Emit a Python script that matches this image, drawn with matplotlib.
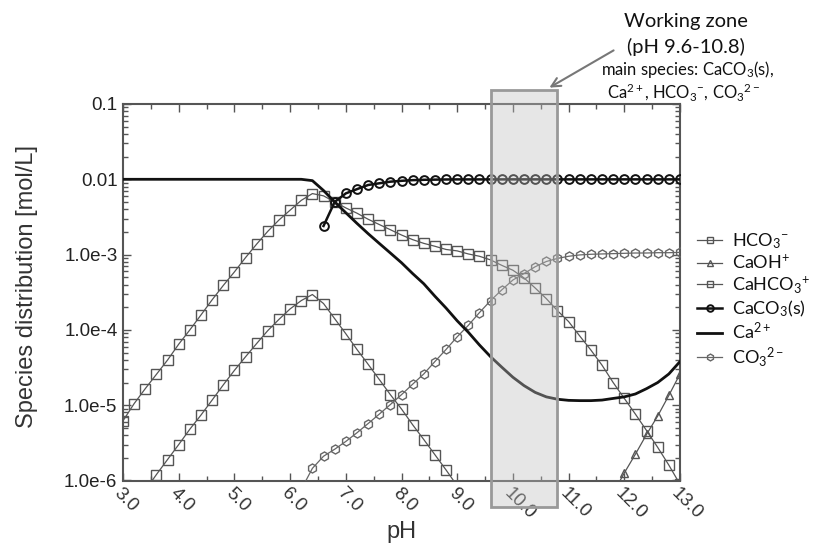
import matplotlib
matplotlib.use("Agg")
import matplotlib.pyplot as plt
from matplotlib.patches import Rectangle
from matplotlib.ticker import FixedLocator, FixedFormatter, LogLocator, NullFormatter

plt.rcParams["font.family"] = ["Liberation Sans", "DejaVu Sans"]
plt.rcParams["mathtext.fontset"] = "custom"
plt.rcParams["mathtext.rm"] = "Lato"
plt.rcParams["mathtext.it"] = "Lato:italic"
plt.rcParams["mathtext.bf"] = "Lato:bold"

# pH grid (markers every 0.2)
PH = [3.0, 3.2, 3.4, 3.6, 3.8, 4.0, 4.2, 4.4, 4.6, 4.8,
      5.0, 5.2, 5.4, 5.6, 5.8, 6.0, 6.2, 6.4, 6.6, 6.8,
      7.0, 7.2, 7.4, 7.6, 7.8, 8.0, 8.2, 8.4, 8.6, 8.8,
      9.0, 9.2, 9.4, 9.6, 9.8, 10.0, 10.2, 10.4, 10.6, 10.8,
      11.0, 11.2, 11.4, 11.6, 11.8, 12.0, 12.2, 12.4, 12.6, 12.8,
      13.0]

# species concentrations [mol/L]
hco3 = [6.2e-6, 1.05e-5, 1.66e-5, 2.57e-5, 3.98e-5, 6.46e-5, 1.0e-4, 1.58e-4, 2.51e-4, 3.89e-4,
        5.89e-4, 9.12e-4, 1.38e-3, 2.04e-3, 2.88e-3, 3.89e-3, 5.25e-3, 6.46e-3, 6.03e-3, 5.01e-3,
        4.17e-3, 3.55e-3, 2.95e-3, 2.51e-3, 2.14e-3, 1.82e-3, 1.58e-3, 1.41e-3, 1.29e-3, 1.17e-3,
        1.12e-3, 1.02e-3, 9.5e-4, 8.5e-4, 7.2e-4, 6.2e-4, 4.9e-4, 3.6e-4, 2.6e-4, 1.8e-4,
        1.29e-4, 8.3e-5, 5.4e-5, 3.4e-5, 2.0e-5, 1.23e-5, 7.6e-6, 4.6e-6, 2.75e-6, 1.6e-6,
        8.9e-7]
cahco3 = [2.8e-7, 4.6e-7, 7.4e-7, 1.2e-6, 1.9e-6, 3.0e-6, 4.8e-6, 7.4e-6, 1.17e-5, 1.86e-5,
          2.9e-5, 4.4e-5, 6.6e-5, 9.8e-5, 1.38e-4, 1.9e-4, 2.45e-4, 2.95e-4, 2.24e-4, 1.41e-4,
          8.9e-5, 5.5e-5, 3.5e-5, 2.2e-5, 1.38e-5, 8.9e-6, 5.5e-6, 3.5e-6, 2.2e-6, 1.38e-6,
          8.5e-7]                                   # pH 3.0 - 9.0
caco3_s = [2.4e-3, 5.0e-3, 6.5e-3, 7.4e-3, 8.4e-3, 8.85e-3, 9.3e-3, 9.55e-3, 9.75e-3, 9.85e-3,
           9.9e-3, 9.95e-3, 9.97e-3, 9.97e-3, 9.97e-3, 9.97e-3, 9.97e-3, 9.98e-3, 9.98e-3, 9.98e-3,
           9.98e-3, 9.98e-3, 9.98e-3, 9.98e-3, 9.98e-3, 9.98e-3, 9.98e-3, 9.98e-3, 9.98e-3, 9.98e-3,
           9.98e-3, 9.98e-3, 9.98e-3]               # pH 6.6 - 13.0
ca2 = [1.0e-2, 1.0e-2, 1.0e-2, 1.0e-2, 1.0e-2, 1.0e-2, 1.0e-2, 1.0e-2, 1.0e-2, 1.0e-2,
       1.0e-2, 1.0e-2, 1.0e-2, 1.0e-2, 1.0e-2, 1.0e-2, 1.0e-2, 9.6e-3, 7.1e-3, 5.0e-3,
       3.6e-3, 2.6e-3, 1.9e-3, 1.41e-3, 1.05e-3, 7.8e-4, 5.6e-4, 4.1e-4, 2.8e-4, 1.95e-4,
       1.32e-4, 9.3e-5, 6.3e-5, 4.4e-5, 3.2e-5, 2.35e-5, 1.82e-5, 1.48e-5, 1.29e-5, 1.2e-5,
       1.16e-5, 1.15e-5, 1.15e-5, 1.17e-5, 1.23e-5, 1.29e-5, 1.41e-5, 1.66e-5, 2.0e-5, 2.6e-5,
       3.8e-5]
co3 = [7.6e-7, 1.45e-6, 2.1e-6, 2.6e-6, 3.3e-6, 4.3e-6, 5.7e-6, 7.6e-6, 1.02e-5, 1.38e-5,
       1.9e-5, 2.6e-5, 3.8e-5, 5.5e-5, 8.1e-5, 1.15e-4, 1.7e-4, 2.45e-4, 3.4e-4, 4.6e-4,
       5.6e-4, 6.9e-4, 8.1e-4, 8.9e-4, 9.5e-4, 9.9e-4, 1.01e-3, 1.02e-3, 1.03e-3, 1.04e-3,
       1.05e-3, 1.05e-3, 1.06e-3, 1.06e-3, 1.07e-3]  # pH 6.2 - 13.0
caoh = [6.8e-7, 1.26e-6, 2.24e-6, 4.1e-6, 7.2e-6, 1.35e-5, 2.6e-5]  # pH 11.8 - 13.0

zone = (9.6, 10.8)
xticks = [3, 4, 5, 6, 7, 8, 9, 10, 11, 12, 13]
xlabels = ["3.0", "4.0", "5.0", "6.0", "7.0", "8.0", "9.0", "10.0", "11.0", "12.0", "13.0"]
yticks = [1e-6, 1e-5, 1e-4, 1e-3, 1e-2, 1e-1]
ylabels = ["1.0e-6", "1.0e-5", "1.0e-4", "1.0e-3", "0.01", "0.1"]

GRAY = "#555555"
fig = plt.figure(figsize=(8.14, 5.48), dpi=100)
ax = fig.add_axes([123 / 814, 1 - 480.5 / 548, (680 - 123) / 814, (480.5 - 104) / 548])

sq = dict(marker="s", ms=6.5, mfc="none", mec=GRAY, mew=1.0, color=GRAY, lw=0.9)
ax.plot(PH, hco3, label=r"HCO$_3$$^{-}$", zorder=3, **sq)
ax.plot(PH[44:], caoh, marker="^", ms=6, mfc="none", mec=GRAY, mew=1.0, color=GRAY, lw=0.9,
        label=r"CaOH$^{+}$", zorder=3)
ax.plot(PH[:31], cahco3, label=r"CaHCO$_3$$^{+}$", zorder=3, **sq)
ax.plot(PH[18:], caco3_s, marker="o", ms=6.3, mfc="none", mec="#111111", mew=1.4, color="#111111",
        lw=1.8, label=r"CaCO$_3$(s)", zorder=4)
ax.plot(PH, ca2, color="#111111", lw=2.0, label=r"Ca$^{2+}$", zorder=4)
ax.plot(PH[16:], co3, marker="h", ms=6.5, mfc="none", mec="#666666", mew=1.0, color="#666666",
        lw=0.9, label=r"CO$_3$$^{2-}$", zorder=3)

ax.set_yscale("log")
ax.set_xlim(3, 13)
ax.set_ylim(1e-6, 0.1)

# working zone overlay
ax.add_patch(Rectangle((zone[0], 4.5e-7), zone[1] - zone[0], 0.153 - 4.5e-7,
                       fc="#bfbfbf", alpha=0.38, ec="none", zorder=5, clip_on=False))
ax.add_patch(Rectangle((zone[0], 4.5e-7), zone[1] - zone[0], 0.153 - 4.5e-7,
                       fc="none", ec="#999999", lw=2, zorder=6, clip_on=False))

ax.xaxis.set_major_locator(FixedLocator(xticks))
ax.xaxis.set_major_formatter(FixedFormatter(xlabels))
ax.xaxis.set_minor_locator(FixedLocator([x + 0.5 for x in xticks[:-1]]))
ax.yaxis.set_major_locator(FixedLocator(yticks))
ax.yaxis.set_major_formatter(FixedFormatter(ylabels))
ax.yaxis.set_minor_locator(LogLocator(base=10, subs=range(2, 10)))
ax.yaxis.set_minor_formatter(NullFormatter())

ax.tick_params(which="both", direction="in", top=True, right=True, color=GRAY, width=1.0)
ax.tick_params(which="major", length=6)
ax.tick_params(which="minor", length=3.5)
ax.tick_params(axis="y", labelsize=13.5, labelcolor="#222222", pad=4)
ax.tick_params(axis="x", labelsize=13.5, labelcolor="#333333", pad=3)
for lab in ax.get_xticklabels():
    lab.set_rotation(-45)
    lab.set_ha("left")
    lab.set_va("top")
    lab.set_rotation_mode("anchor")
for s in ax.spines.values():
    s.set_color(GRAY)
    s.set_linewidth(1.5)

ax.set_ylabel("Species distribution [mol/L]", fontsize=17, color="#333333")
ax.yaxis.set_label_coords(-0.152, 0.515)
fig.text(401 / 814, 1 - 532 / 548, "pH", ha="center", va="center", fontsize=17, color="#333333")

leg = fig.legend(loc="center left", bbox_to_anchor=(697 / 814, 1 - 300 / 548), frameon=False,
                 prop={"family": "Lato", "size": 13}, handlelength=1.4, handletextpad=0.55,
                 labelspacing=0.14, borderpad=0, borderaxespad=0, markerscale=0.75)
for t in leg.get_texts():
    t.set_color("#111111")

# annotation
fig.text(686 / 814, 1 - 22 / 548, "Working zone", ha="center", va="center", fontsize=14.5,
         family="Lato", color="#111111")
fig.text(686 / 814, 1 - 47 / 548, "(pH 9.6-10.8)", ha="center", va="center", fontsize=14.5,
         family="Lato", color="#111111")
fig.text(688 / 814, 1 - 70 / 548, "main species: CaCO$_3$(s),", ha="center", va="center",
         fontsize=12, family="Lato", color="#111111")
fig.text(684 / 814, 1 - 92 / 548, r"Ca$^{2+}$, HCO$_3$$^{-}$, CO$_3$$^{2-}$", ha="center",
         va="center", fontsize=12, family="Lato", color="#111111")
ax.annotate("", xy=(547 / 814, 1 - 89 / 548), xytext=(616 / 814, 1 - 49 / 548),
            xycoords="figure fraction", textcoords="figure fraction",
            arrowprops=dict(arrowstyle="->", color="#777777", lw=1.5, mutation_scale=16))

fig.savefig("out.png", dpi=100, facecolor="white")
